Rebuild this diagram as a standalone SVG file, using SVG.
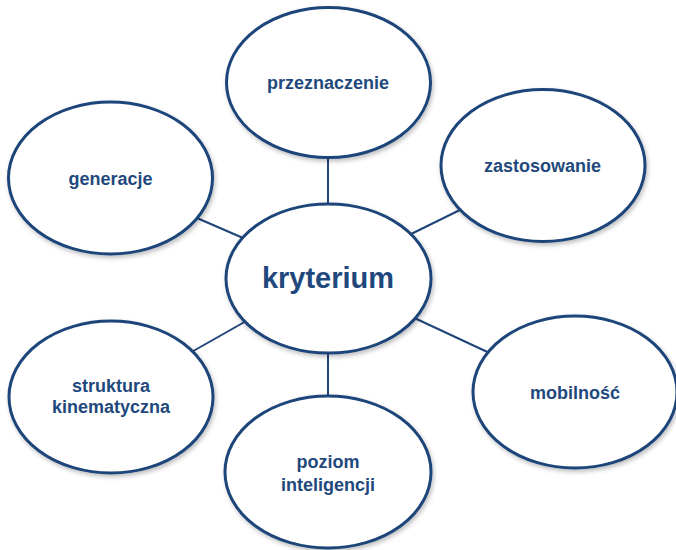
<svg xmlns="http://www.w3.org/2000/svg" width="676" height="550" viewBox="0 0 676 550">
<defs>
<filter id="sh" x="-10%" y="-10%" width="125%" height="130%">
<feDropShadow dx="1.5" dy="2.5" stdDeviation="2" flood-color="#000" flood-opacity="0.25"/>
</filter>
</defs>
<style>
.node ellipse{fill:#fff;stroke:#1F4479;stroke-width:3;filter:url(#sh)}
.lbl{font-family:"Liberation Sans",Arial,sans-serif;font-weight:bold;font-size:18px;fill:#1F497D;text-anchor:middle}
.big{font-size:29px}
.conn line{stroke:#1F4479;stroke-width:2}
</style>
<rect width="676" height="550" fill="#fff"/>
<g id="connectors" class="conn">
<line x1="328" y1="150" x2="328" y2="212"/>
<line x1="190" y1="215" x2="250" y2="241"/>
<line x1="466" y1="207" x2="405" y2="237"/>
<line x1="408" y1="315" x2="496" y2="356"/>
<line x1="328" y1="345" x2="328" y2="404"/>
<line x1="188" y1="354" x2="248" y2="320"/>
</g>
<g id="przeznaczenie" class="node">
<ellipse cx="328.5" cy="82.5" rx="102" ry="75"/>
<text class="lbl" x="328" y="89">przeznaczenie</text>
</g>
<g id="generacje" class="node">
<ellipse cx="110.5" cy="178" rx="102" ry="76"/>
<text class="lbl" x="110.5" y="185">generacje</text>
</g>
<g id="zastosowanie" class="node">
<ellipse cx="543" cy="165.5" rx="102" ry="76"/>
<text class="lbl" x="542.5" y="172">zastosowanie</text>
</g>
<g id="kryterium" class="node">
<ellipse cx="328.5" cy="278.5" rx="102.5" ry="74.5"/>
<text class="lbl big" x="328" y="288">kryterium</text>
</g>
<g id="struktura" class="node">
<ellipse cx="111" cy="397" rx="102" ry="76"/>
<text class="lbl" x="111" y="392">struktura</text>
<text class="lbl" x="111" y="413">kinematyczna</text>
</g>
<g id="mobilnosc" class="node">
<ellipse cx="575" cy="392" rx="102" ry="76"/>
<text class="lbl" x="575" y="399">mobilność</text>
</g>
<g id="poziom" class="node">
<ellipse cx="328" cy="472" rx="103" ry="76"/>
<text class="lbl" x="328" y="468">poziom</text>
<text class="lbl" x="328" y="491">inteligencji</text>
</g>
</svg>
